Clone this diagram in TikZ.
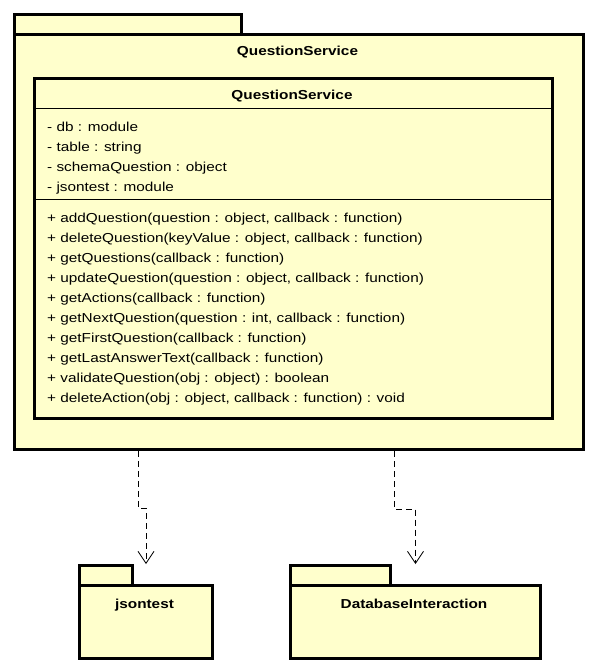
\documentclass[tikz,border=0pt]{standalone}
\usepackage{fontspec}
\setmainfont{Liberation Sans}[FakeStretch=1.18]
\usetikzlibrary{arrows.meta}
\definecolor{umlfill}{HTML}{FFFFCC}

\begin{document}
\begin{tikzpicture}[x=1pt,y=-1pt]
        \tikzset{pkg/.style={draw, line width=3pt, fill=umlfill, inner sep=0pt, anchor=north west},
                 sep/.style={line width=0.8pt},
                 member/.style={anchor=base west, inner sep=0pt, font=\fontsize{13}{20}\selectfont},
                 pkgname/.style={anchor=base, inner sep=0pt, font=\bfseries\fontsize{13}{16}\selectfont},
                 dep/.style={line width=0.8pt, dash pattern=on 6pt off 4pt, -{Straight Barb[length=12pt,width=16pt,line width=0.8pt]}}}
        \useasboundingbox (0,0) rectangle (594,670);
                % main package
                \node[pkg, minimum width=227, minimum height=20] (MainTab) at (13,13) {};
                \node[pkg, minimum width=569, minimum height=415] (MainBody) at (13,33) {};
                \node[pkgname] (MainName) at (297.5,55) {QuestionService};
                % class
                \node[pkg, minimum width=518, minimum height=340] (Cls) at (33,77) {};
                \node[pkgname] (ClsName) at (292,99) {QuestionService};
                \draw[sep] ([yshift=-31pt]Cls.north west) -- ([yshift=-31pt]Cls.north east);
                \draw[sep] ([yshift=-122pt]Cls.north west) -- ([yshift=-122pt]Cls.north east);
                \foreach \txt [count=\i] in {- db : module, - table : string,
                        - schemaQuestion : object, - jsontest : module}
                        \node[member] (Attr\i) at (47,111+20*\i) {\txt};
                \foreach \txt [count=\i] in {{+ addQuestion(question : object, callback : function)},
                        {+ deleteQuestion(keyValue : object, callback : function)},
                        {+ getQuestions(callback : function)},
                        {+ updateQuestion(question : object, callback : function)},
                        {+ getActions(callback : function)},
                        {+ getNextQuestion(question : int, callback : function)},
                        {+ getFirstQuestion(callback : function)},
                        {+ getLastAnswerText(callback : function)},
                        {+ validateQuestion(obj : object) : boolean},
                        {+ deleteAction(obj : object, callback : function) : void}}
                        \node[member] (Op\i) at (47,202+20*\i) {\txt};
                % used packages
                \node[pkg, minimum width=53, minimum height=20] (JsonTab) at (78,564) {};
                \node[pkg, minimum width=133, minimum height=73] (JsonBody) at (78,584) {};
                \node[pkgname] (JsonName) at (144.5,608) {jsontest};
                \node[pkg, minimum width=100, minimum height=20] (DbTab) at (289,564) {};
                \node[pkg, minimum width=250, minimum height=73] (DbBody) at (289,584) {};
                \node[pkgname] (DbName) at (414,608) {DatabaseInteraction};
                % dependencies
                \draw[dep] ([xshift=125pt]MainBody.south west) -- ++(0,57) -| ([yshift=20pt]JsonBody.north);
                \draw[dep] ([xshift=381pt]MainBody.south west) -- ++(0,58) -| ([yshift=20pt]DbBody.north);
\end{tikzpicture}
\end{document}
